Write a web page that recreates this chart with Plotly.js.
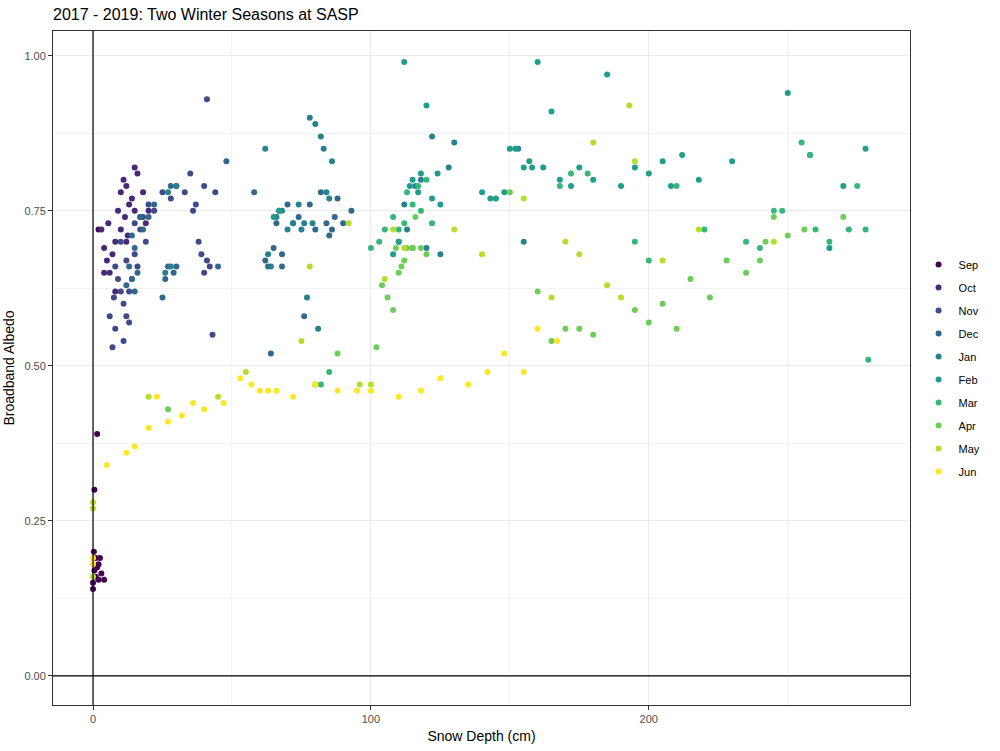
<!DOCTYPE html>
<html>
<head>
<script src="https://cdn.plot.ly/plotly-3.0.1.min.js"></script>
<style>body{margin:0}#plot{width:1000px;height:751px}</style>
</head>
<body>
<div id="plot"></div>
<script>
// month labels and viridis colours
var months = ['Sep','Oct','Nov','Dec','Jan','Feb','Mar','Apr','May','Jun'];
var colors = ['#440154','#482878','#3E4A89','#31688E','#26828E','#1F9E89','#35B779','#6DCD59','#B4DE2C','#FDE725'];

// snow depth (cm) and albedo, per month
var sepX = [0,0,0.3,0.5,1,1,1.5,2,2,2.5,3,4,0.5,1.5,2];
var sepY = [0.14,0.15,0.2,0.17,0.19,0.16,0.175,0.18,0.155,0.19,0.165,0.155,0.3,0.39,0.72];
var octX = [3,4,5,5.5,6,7,8,9,10,10,11,11.5,12,12.5,13,14,15,15,16,17,18,19,20,4,8,12];
var octY = [0.72,0.69,0.67,0.73,0.65,0.68,0.70,0.75,0.72,0.78,0.80,0.74,0.79,0.71,0.76,0.77,0.82,0.75,0.81,0.74,0.78,0.73,0.75,0.65,0.62,0.70];
var novX = [6,7,7.5,8,8,9,10,10,11,11,12,12,13,13,14,15,15,16,17,18,19,20,22,25,28,30,33,35,36,37,38,39,40,40,41,41,42,43,44];
var novY = [0.58,0.53,0.61,0.66,0.56,0.64,0.62,0.70,0.54,0.60,0.58,0.67,0.62,0.57,0.64,0.73,0.68,0.66,0.72,0.74,0.70,0.76,0.75,0.78,0.77,0.79,0.78,0.81,0.75,0.76,0.70,0.68,0.65,0.79,0.67,0.93,0.66,0.55,0.78];
var decX = [12,13,14,14,15,15,16,17,18,20,22,25,26,27,28,29,30,45,48,62,63,64,65,66,67,68,70,72,74,76,78,80,82,84,85,86,87,88,90,93,68,58];
var decY = [0.63,0.66,0.64,0.71,0.62,0.69,0.65,0.74,0.72,0.74,0.76,0.61,0.64,0.66,0.79,0.65,0.66,0.66,0.83,0.67,0.66,0.52,0.69,0.73,0.75,0.66,0.76,0.73,0.74,0.58,0.76,0.72,0.78,0.73,0.71,0.72,0.74,0.77,0.73,0.75,0.68,0.78];
var janX = [26,27,28,30,62,63,64,66,68,70,72,74,75,76,77,78,79,80,81,82,83,84,85,86,110,112,113,115,116,118,120,122,125,128,130,153,155];
var janY = [0.65,0.78,0.66,0.79,0.85,0.68,0.66,0.74,0.75,0.72,0.73,0.76,0.72,0.73,0.61,0.90,0.73,0.89,0.56,0.87,0.85,0.78,0.77,0.83,0.70,0.76,0.72,0.69,0.79,0.80,0.69,0.87,0.68,0.82,0.86,0.85,0.70];
var febX = [65,67,108,110,112,114,115,117,118,120,122,124,125,140,143,145,148,150,152,155,157,158,160,162,165,168,172,175,180,185,190,195,200,205,208,212,218,230,250,258,265,270,278];
var febY = [0.74,0.75,0.68,0.70,0.99,0.79,0.80,0.78,0.81,0.92,0.77,0.81,0.76,0.78,0.77,0.77,0.78,0.85,0.85,0.82,0.83,0.82,0.99,0.82,0.91,0.80,0.79,0.82,0.80,0.97,0.79,0.82,0.81,0.83,0.79,0.84,0.80,0.83,0.94,0.84,0.69,0.79,0.85];
var marX = [82,85,100,103,105,108,110,112,113,115,117,118,120,122,168,172,178,195,200,210,220,235,240,245,248,255,258,260,265,272,275,278,279];
var marY = [0.47,0.49,0.69,0.70,0.72,0.74,0.72,0.73,0.78,0.76,0.79,0.75,0.80,0.73,0.79,0.81,0.81,0.70,0.67,0.79,0.72,0.70,0.69,0.75,0.75,0.86,0.84,0.72,0.70,0.72,0.79,0.72,0.51];
var aprX = [27,80,88,102,104,106,108,109,110,111,112,113,115,116,118,120,150,160,165,170,175,180,195,200,205,210,215,222,228,235,240,242,245,250,256,270];
var aprY = [0.43,0.47,0.52,0.53,0.63,0.61,0.59,0.69,0.65,0.66,0.67,0.69,0.69,0.74,0.69,0.68,0.78,0.62,0.54,0.56,0.56,0.55,0.59,0.57,0.60,0.56,0.64,0.61,0.67,0.65,0.67,0.70,0.74,0.71,0.72,0.74];
var mayX = [0,0,0,20,45,55,75,78,80,92,96,100,105,108,112,130,140,155,165,170,175,180,185,190,193,195,205,218,245];
var mayY = [0.27,0.28,0.16,0.45,0.45,0.49,0.54,0.66,0.47,0.73,0.47,0.47,0.64,0.72,0.69,0.72,0.68,0.77,0.61,0.70,0.68,0.86,0.63,0.61,0.92,0.83,0.67,0.72,0.70];
var junX = [0,0,5,12,15,20,23,27,32,36,40,47,53,57,60,63,66,72,80,88,95,100,110,118,125,135,142,148,155,160,167];
var junY = [0.18,0.19,0.34,0.36,0.37,0.40,0.45,0.41,0.42,0.44,0.43,0.44,0.48,0.47,0.46,0.46,0.46,0.45,0.47,0.46,0.46,0.46,0.45,0.46,0.48,0.47,0.49,0.52,0.49,0.56,0.54];

var xs = [sepX,octX,novX,decX,janX,febX,marX,aprX,mayX,junX];
var ys = [sepY,octY,novY,decY,janY,febY,marY,aprY,mayY,junY];

var traces = [];
for (var i = 0; i < months.length; i++) {
  traces.push({x: xs[i], y: ys[i], name: months[i], legendgroup: months[i], type: 'scatter', mode: 'markers',
    marker: {color: colors[i], size: 6}});
}

var layout = {
  width: 1000, height: 751,
  margin: {l: 53, r: 90, t: 31, b: 46},
  paper_bgcolor: 'white', plot_bgcolor: 'white',
  font: {family: 'Liberation Sans, Arial, sans-serif', color: '#000'},
  title: {text: '2017 - 2019: Two Winter Seasons at SASP', x: 0.053, xanchor: 'left', y: 0.988, yanchor: 'top', font: {size: 16}},
  xaxis: {range: [-14.4, 294], tickvals: [0,100,200], ticks: 'outside', ticklen: 4, tickcolor: '#333',
    tickfont: {size: 11, color: '#4d4d4d'}, showgrid: true, gridcolor: '#ebebeb', zeroline: false,
    minor: {tickvals: [50,150,250], showgrid: true, gridcolor: '#f3f3f3'},
    showline: true, mirror: true, linecolor: '#333', linewidth: 1,
    title: {text: 'Snow Depth (cm)', font: {size: 14}, standoff: 6}},
  yaxis: {range: [-0.047, 1.04], tickvals: [0,0.25,0.5,0.75,1], ticktext: ['0.00','0.25','0.50','0.75','1.00'],
    ticks: 'outside', ticklen: 4, tickcolor: '#333', tickfont: {size: 11, color: '#4d4d4d'},
    showgrid: true, gridcolor: '#ebebeb', zeroline: false,
    minor: {tickvals: [0.125,0.375,0.625,0.875], showgrid: true, gridcolor: '#f3f3f3'},
    showline: true, mirror: true, linecolor: '#333', linewidth: 1,
    title: {text: 'Broadband Albedo', font: {size: 14}, standoff: 6}},
  legend: {x: 1.01, y: 0.5, yanchor: 'middle', font: {size: 11}, tracegroupgap: 4, itemwidth: 30},
  shapes: [
    {type: 'line', xref: 'x', yref: 'paper', x0: 0, x1: 0, y0: 0, y1: 1, line: {color: '#000', width: 1.2}},
    {type: 'line', xref: 'paper', yref: 'y', x0: 0, x1: 1, y0: 0, y1: 0, line: {color: '#000', width: 1.2}}
  ]
};

Plotly.newPlot('plot', traces, layout, {displayModeBar: false});
</script>
</body>
</html>
